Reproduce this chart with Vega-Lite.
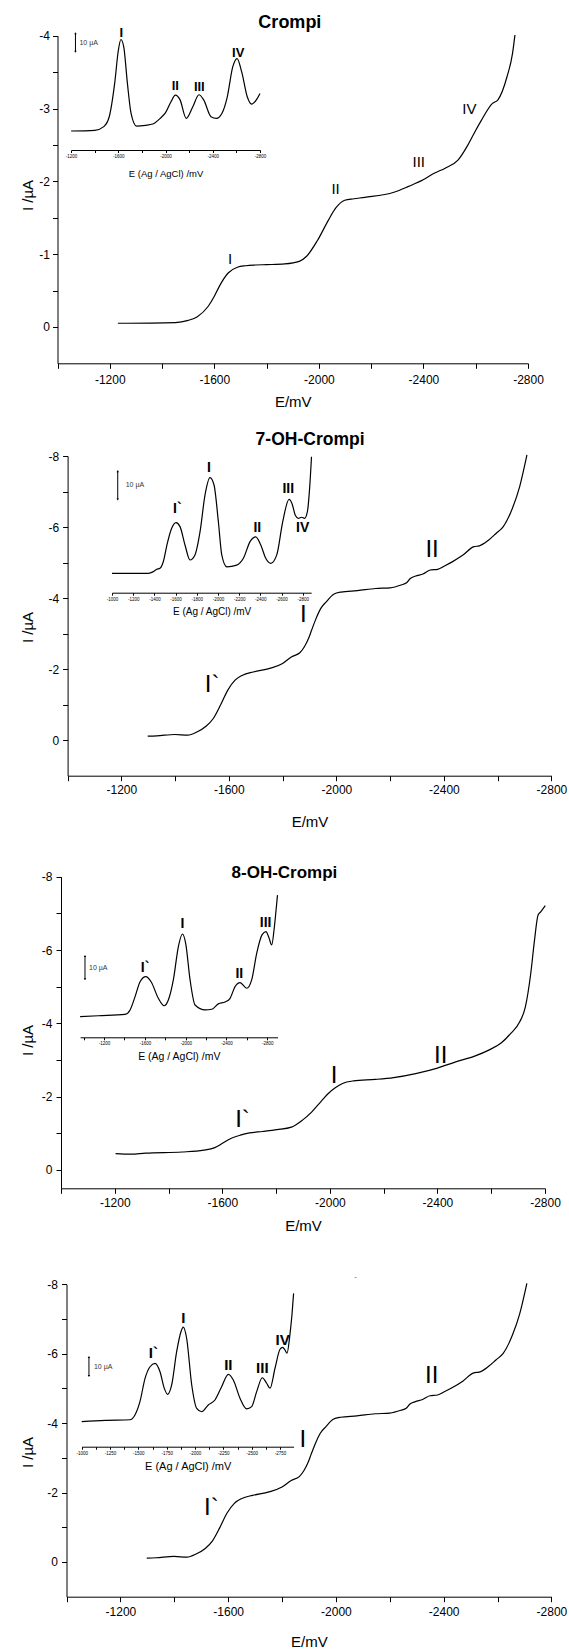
{
  "$schema": "https://vega.github.io/schema/vega-lite/v6.json",
  "width": 569,
  "height": 1650,
  "autosize": {"type": "none"},
  "padding": 0,
  "background": "white",
  "config": {
    "view": {"stroke": null},
    "font": "Liberation Sans",
    "text": {"font": "Liberation Sans", "color": "black"},
    "axis": {"domainColor": "black", "tickColor": "black", "labelColor": "black", "titleColor": "black", "labelFont": "Liberation Sans", "titleFont": "Liberation Sans", "grid": false, "labelFlush": false, "labelOverlap": false, "labelBound": false, "titleFontWeight": "normal", "domainWidth": 1, "tickWidth": 1}
  },
  "datasets": {
    "m1": [{"E":-1231,"I":-0.05},{"E":-1451,"I":-0.06},{"E":-1500,"I":-0.09},{"E":-1535,"I":-0.14},{"E":-1576,"I":-0.28},{"E":-1600,"I":-0.42},{"E":-1618,"I":-0.55},{"E":-1653,"I":-0.74},{"E":-1688,"I":-0.82},{"E":-1720,"I":-0.84},{"E":-1757,"I":-0.85},{"E":-1800,"I":-0.855},{"E":-1869,"I":-0.865},{"E":-1925,"I":-0.9},{"E":-1953,"I":-0.97},{"E":-1995,"I":-1.19},{"E":-2037,"I":-1.47},{"E":-2064,"I":-1.63},{"E":-2099,"I":-1.74},{"E":-2134,"I":-1.76},{"E":-2176,"I":-1.78},{"E":-2287,"I":-1.85},{"E":-2343,"I":-1.93},{"E":-2399,"I":-2.02},{"E":-2441,"I":-2.11},{"E":-2483,"I":-2.18},{"E":-2532,"I":-2.29},{"E":-2567,"I":-2.48},{"E":-2594,"I":-2.66},{"E":-2622,"I":-2.84},{"E":-2664,"I":-3.07},{"E":-2685,"I":-3.12},{"E":-2720,"I":-3.44},{"E":-2741,"I":-3.76},{"E":-2750,"I":-4.01}],
    "i1": [{"E":-1200,"I":0},{"E":-1400,"I":0.36},{"E":-1477,"I":2.4},{"E":-1523,"I":7.8},{"E":-1569,"I":26},{"E":-1600,"I":44},{"E":-1622,"I":50},{"E":-1646,"I":46},{"E":-1677,"I":26},{"E":-1708,"I":9.6},{"E":-1754,"I":2.7},{"E":-1831,"I":3.1},{"E":-1892,"I":3.8},{"E":-1954,"I":6.9},{"E":-2000,"I":10},{"E":-2046,"I":16},{"E":-2083,"I":19.6},{"E":-2123,"I":17},{"E":-2175,"I":6.9},{"E":-2231,"I":13.3},{"E":-2283,"I":19.8},{"E":-2323,"I":17},{"E":-2385,"I":7.8},{"E":-2431,"I":6.9},{"E":-2477,"I":9.6},{"E":-2523,"I":18.7},{"E":-2569,"I":35},{"E":-2606,"I":39.6},{"E":-2646,"I":32},{"E":-2692,"I":18.7},{"E":-2729,"I":14.7},{"E":-2769,"I":17},{"E":-2800,"I":20.5}],
    "ml1": [{"E":-1660,"I":-0.93,"t":"I"},{"E":-2064,"I":-1.89,"t":"II"},{"E":-2382,"I":-2.26,"t":"III"},{"E":-2576,"I":-2.99,"t":"IV"}],
    "il1": [{"E":-1625,"I":53.6,"t":"I"},{"E":-2083,"I":24.5,"t":"II"},{"E":-2286,"I":23.8,"t":"III"},{"E":-2615,"I":42.7,"t":"IV"}],
    "t1": [{"E":-1889,"I":-4.18,"t":"Crompi"}],
    "b1": [{"E":-1237,"lo":43.3,"hi":53.4,"mid":48.3,"t":"10 µA"}],
    "m2": [{"E":-1298,"I":-0.113},{"E":-1332,"I":-0.122},{"E":-1399,"I":-0.16},{"E":-1447,"I":-0.14},{"E":-1481,"I":-0.23},{"E":-1515,"I":-0.39},{"E":-1542,"I":-0.61},{"E":-1569,"I":-0.99},{"E":-1596,"I":-1.41},{"E":-1623,"I":-1.69},{"E":-1651,"I":-1.83},{"E":-1691,"I":-1.92},{"E":-1752,"I":-2.02},{"E":-1800,"I":-2.16},{"E":-1834,"I":-2.35},{"E":-1864,"I":-2.46},{"E":-1881,"I":-2.63},{"E":-1899,"I":-2.91},{"E":-1908,"I":-3.1},{"E":-1922,"I":-3.38},{"E":-1942,"I":-3.71},{"E":-1963,"I":-3.9},{"E":-1990,"I":-4.11},{"E":-2017,"I":-4.17},{"E":-2078,"I":-4.21},{"E":-2146,"I":-4.27},{"E":-2200,"I":-4.29},{"E":-2241,"I":-4.37},{"E":-2261,"I":-4.43},{"E":-2275,"I":-4.55},{"E":-2295,"I":-4.62},{"E":-2322,"I":-4.68},{"E":-2349,"I":-4.79},{"E":-2377,"I":-4.81},{"E":-2404,"I":-4.91},{"E":-2431,"I":-5.02},{"E":-2471,"I":-5.21},{"E":-2512,"I":-5.45},{"E":-2532,"I":-5.47},{"E":-2566,"I":-5.63},{"E":-2594,"I":-5.82},{"E":-2621,"I":-6.01},{"E":-2655,"I":-6.53},{"E":-2682,"I":-7.14},{"E":-2709,"I":-8.03}],
    "i2": [{"E":-1000,"I":0},{"E":-1343,"I":0},{"E":-1390,"I":0.6},{"E":-1422,"I":1.4},{"E":-1453,"I":1.8},{"E":-1484,"I":4.1},{"E":-1522,"I":10.6},{"E":-1563,"I":15.9},{"E":-1604,"I":17.9},{"E":-1642,"I":16.5},{"E":-1689,"I":10},{"E":-1736,"I":4.7},{"E":-1783,"I":6.5},{"E":-1831,"I":14.7},{"E":-1878,"I":27.7},{"E":-1925,"I":33.8},{"E":-1963,"I":31.2},{"E":-2004,"I":18.2},{"E":-2036,"I":6.5},{"E":-2083,"I":2.3},{"E":-2177,"I":2.9},{"E":-2240,"I":5.3},{"E":-2303,"I":11.2},{"E":-2357,"I":12.9},{"E":-2404,"I":10},{"E":-2451,"I":5.3},{"E":-2498,"I":3.5},{"E":-2555,"I":6.5},{"E":-2611,"I":18.2},{"E":-2671,"I":26.1},{"E":-2700,"I":24.5},{"E":-2730,"I":20.5},{"E":-2759,"I":19.4},{"E":-2790,"I":19.8},{"E":-2817,"I":19.4},{"E":-2845,"I":22},{"E":-2865,"I":30},{"E":-2883,"I":41.2}],
    "ml2": [{"E":-1538,"I":-1.55,"t":"I`"},{"E":-1877,"I":-3.52,"t":"I"},{"E":-2356,"I":-5.35,"t":"II"}],
    "il2": [{"E":-1617,"I":22.6,"t":"I`"},{"E":-1916,"I":37.1,"t":"I"},{"E":-2372,"I":16.1,"t":"II"},{"E":-2664,"I":29.7,"t":"III"},{"E":-2800,"I":16.1,"t":"IV"}],
    "t2": [{"E":-1902,"I":-8.45,"t":"7-OH-Crompi"}],
    "b2": [{"E":-1054,"lo":26.1,"hi":36.1,"mid":31.1,"t":"10 µA"}],
    "m3": [{"E":-1203,"I":-0.446},{"E":-1260,"I":-0.43},{"E":-1314,"I":-0.46},{"E":-1450,"I":-0.49},{"E":-1531,"I":-0.54},{"E":-1572,"I":-0.61},{"E":-1599,"I":-0.72},{"E":-1626,"I":-0.84},{"E":-1667,"I":-0.95},{"E":-1701,"I":-1.01},{"E":-1749,"I":-1.05},{"E":-1803,"I":-1.1},{"E":-1857,"I":-1.17},{"E":-1898,"I":-1.36},{"E":-1932,"I":-1.58},{"E":-1966,"I":-1.86},{"E":-1993,"I":-2.08},{"E":-2020,"I":-2.24},{"E":-2047,"I":-2.36},{"E":-2088,"I":-2.43},{"E":-2169,"I":-2.47},{"E":-2237,"I":-2.52},{"E":-2319,"I":-2.63},{"E":-2400,"I":-2.78},{"E":-2468,"I":-2.95},{"E":-2536,"I":-3.1},{"E":-2591,"I":-3.27},{"E":-2638,"I":-3.47},{"E":-2672,"I":-3.72},{"E":-2706,"I":-4.04},{"E":-2727,"I":-4.45},{"E":-2747,"I":-5.36},{"E":-2761,"I":-6.27},{"E":-2774,"I":-6.95},{"E":-2784,"I":-7.04},{"E":-2801,"I":-7.21}],
    "i3": [{"E":-965,"I":-0.3},{"E":-1144,"I":0.1},{"E":-1406,"I":0.7},{"E":-1455,"I":2.6},{"E":-1504,"I":8.3},{"E":-1553,"I":14.7},{"E":-1609,"I":16.9},{"E":-1661,"I":14.7},{"E":-1732,"I":7.6},{"E":-1788,"I":4.4},{"E":-1830,"I":6.9},{"E":-1879,"I":15.5},{"E":-1928,"I":29.7},{"E":-1968,"I":35.2},{"E":-2000,"I":31.2},{"E":-2043,"I":15.5},{"E":-2092,"I":4.7},{"E":-2190,"I":2.6},{"E":-2256,"I":2.9},{"E":-2320,"I":5.2},{"E":-2386,"I":6},{"E":-2435,"I":7.6},{"E":-2484,"I":12.6},{"E":-2533,"I":14.3},{"E":-2598,"I":11.9},{"E":-2647,"I":15.5},{"E":-2696,"I":26.9},{"E":-2748,"I":34.8},{"E":-2787,"I":36.2},{"E":-2817,"I":33.5},{"E":-2843,"I":30.5},{"E":-2866,"I":36.9},{"E":-2886,"I":45.5},{"E":-2900,"I":51.9}],
    "ml3": [{"E":-1675,"I":-1.36,"t":"I`"},{"E":-2016,"I":-2.57,"t":"I"},{"E":-2412,"I":-3.1,"t":"II"}],
    "il3": [{"E":-1602,"I":20.5,"t":"I`"},{"E":-1967,"I":39.4,"t":"I"},{"E":-2526,"I":17.9,"t":"II"},{"E":-2783,"I":40,"t":"III"}],
    "t3": [{"E":-1831,"I":-8.09,"t":"8-OH-Crompi"}],
    "b3": [{"E":-1013,"lo":15.75,"hi":25.75,"mid":20.75,"t":"10 µA"}],
    "i4": [{"E":-1000,"I":-0.5},{"E":-1206,"I":0.2},{"E":-1426,"I":0.5},{"E":-1470,"I":3},{"E":-1514,"I":10},{"E":-1559,"I":22.3},{"E":-1603,"I":28.4},{"E":-1647,"I":30.2},{"E":-1691,"I":25.8},{"E":-1729,"I":17},{"E":-1759,"I":13.9},{"E":-1794,"I":18.8},{"E":-1838,"I":36.3},{"E":-1876,"I":46.8},{"E":-1897,"I":49.2},{"E":-1926,"I":43.4},{"E":-1971,"I":18.8},{"E":-2015,"I":6.5},{"E":-2059,"I":4.7},{"E":-2117,"I":8.3},{"E":-2176,"I":10.9},{"E":-2235,"I":17.9},{"E":-2294,"I":24.4},{"E":-2338,"I":21.4},{"E":-2397,"I":11.8},{"E":-2456,"I":6.2},{"E":-2500,"I":7.4},{"E":-2544,"I":15.3},{"E":-2594,"I":22.6},{"E":-2632,"I":19.7},{"E":-2662,"I":17.1},{"E":-2706,"I":27.6},{"E":-2750,"I":37.6},{"E":-2773,"I":38.6},{"E":-2794,"I":37.2},{"E":-2812,"I":35.5},{"E":-2838,"I":45.6},{"E":-2856,"I":56},{"E":-2870,"I":67}],
    "il4": [{"E":-1632,"I":35.5,"t":"I`"},{"E":-1897,"I":53.9,"t":"I"},{"E":-2294,"I":29.3,"t":"II"},{"E":-2594,"I":27.9,"t":"III"},{"E":-2773,"I":42.5,"t":"IV"}],
    "t4": [{"E":-2073,"I":-8.2,"t":"-"}],
    "b4": [{"E":-1064,"lo":23.5,"hi":33.5,"mid":28.5,"t":"10 µA"}]
  },
  "resolve": {"scale": {"x": "independent", "y": "independent"}, "axis": {"x": "independent", "y": "independent"}},
  "layer": [
    {
      "resolve": {"scale": {"x": "independent", "y": "independent"}, "axis": {"x": "independent", "y": "independent"}},
      "layer": [
        {
          "layer": [
            {"data": {"name": "m1"}, "mark": {"type": "line", "color": "black", "strokeWidth": 1.2, "interpolate": "monotone"},
             "encoding": {
               "x": {"field": "E", "type": "quantitative", "scale": {"domain": [-2800, -1000], "range": [528, 57.5], "nice": false, "zero": false},
                     "axis": {"orient": "bottom", "offset": -1286.7, "values": [-1000,-1200,-1400,-1600,-1800,-2000,-2200,-2400,-2600,-2800], "labelExpr": "datum.value % 400 === 0 ? '' + datum.value : ''", "title": "E/mV", "titleFontSize": 15, "titleY": 38, "titleBaseline": "middle", "labelFontSize": 12, "labelPadding": 6, "tickSize": 5}},
               "y": {"field": "I", "type": "quantitative", "scale": {"domain": [-4, 0.5], "range": [35.7, 363.3], "nice": false, "zero": false},
                     "axis": {"orient": "left", "offset": -57.5, "values": [0,-0.5,-1,-1.5,-2,-2.5,-3,-3.5,-4], "labelExpr": "datum.value % 1 === 0 ? '' + datum.value : ''", "title": "I /µA", "titleFontSize": 15, "titleX": -30, "titleY": 195, "titleBaseline": "middle", "labelFontSize": 12, "labelPadding": 3, "tickSize": 5}}
             }},
            {"data": {"name": "ml1"}, "mark": {"type": "text", "fontSize": 15, "baseline": "middle"},
             "encoding": {"x": {"field": "E", "type": "quantitative"}, "y": {"field": "I", "type": "quantitative"}, "text": {"field": "t"}}},
            {"data": {"name": "t1"}, "mark": {"type": "text", "fontSize": 18, "fontWeight": "bold", "baseline": "middle"},
             "encoding": {"x": {"field": "E", "type": "quantitative"}, "y": {"field": "I", "type": "quantitative"}, "text": {"field": "t"}}}
          ]
        },
        {
          "layer": [
            {"data": {"name": "i1"}, "mark": {"type": "line", "color": "black", "strokeWidth": 1.2, "interpolate": "monotone"},
             "encoding": {
               "x": {"field": "E", "type": "quantitative", "scale": {"domain": [-2800, -1200], "range": [260, 71.1], "nice": false, "zero": false},
                     "axis": {"orient": "bottom", "offset": -1500, "values": [-1200,-1400,-1600,-1800,-2000,-2200,-2400,-2600,-2800], "labelExpr": "datum.value % 400 === 0 ? '' + datum.value : ''", "title": "E (Ag / AgCl) /mV", "titleFontSize": 9.5, "titleY": 23, "titleBaseline": "middle", "labelFontSize": 4.5, "labelPadding": 1, "tickSize": 2.5}},
               "y": {"field": "I", "type": "quantitative", "scale": {"domain": [0, 50], "range": [131, 39.5], "nice": false, "zero": false}, "axis": null}
             }},
            {"data": {"name": "il1"}, "mark": {"type": "text", "fontSize": 13, "fontWeight": "bold", "baseline": "middle"},
             "encoding": {"x": {"field": "E", "type": "quantitative"}, "y": {"field": "I", "type": "quantitative", "axis": null}, "text": {"field": "t"}}},
            {"data": {"name": "b1"}, "mark": {"type": "rule", "color": "black", "strokeWidth": 1},
             "encoding": {"x": {"field": "E", "type": "quantitative"}, "y": {"field": "lo", "type": "quantitative", "axis": null}, "y2": {"field": "hi"}}},
            {"data": {"name": "b1"}, "mark": {"type": "point", "shape": "triangle-up", "filled": true, "color": "black", "size": 6, "opacity": 1},
             "encoding": {"x": {"field": "E", "type": "quantitative"}, "y": {"field": "hi", "type": "quantitative", "axis": null}}},
            {"data": {"name": "b1"}, "mark": {"type": "point", "shape": "triangle-down", "filled": true, "color": "black", "size": 6, "opacity": 1},
             "encoding": {"x": {"field": "E", "type": "quantitative"}, "y": {"field": "lo", "type": "quantitative", "axis": null}}},
            {"data": {"name": "b1"}, "mark": {"type": "text", "fontSize": 7, "align": "left", "baseline": "middle", "dx": 4, "color": "#333"},
             "encoding": {"x": {"field": "E", "type": "quantitative"}, "y": {"field": "mid", "type": "quantitative", "axis": null}, "text": {"field": "t"}}}
          ]
        }
      ]
    },
    {
      "resolve": {"scale": {"x": "independent", "y": "independent"}, "axis": {"x": "independent", "y": "independent"}},
      "layer": [
        {
          "layer": [
            {"data": {"name": "m2"}, "mark": {"type": "line", "color": "black", "strokeWidth": 1.2, "interpolate": "monotone"},
             "encoding": {
               "x": {"field": "E", "type": "quantitative", "scale": {"domain": [-2800, -1000], "range": [551.4, 67.6], "nice": false, "zero": false},
                     "axis": {"orient": "bottom", "offset": -874.3, "values": [-1000,-1200,-1400,-1600,-1800,-2000,-2200,-2400,-2600,-2800], "labelExpr": "datum.value % 400 === 0 ? '' + datum.value : ''", "title": "E/mV", "titleFontSize": 15, "titleY": 46, "titleBaseline": "middle", "labelFontSize": 12, "labelPadding": 4, "tickSize": 5}},
               "y": {"field": "I", "type": "quantitative", "scale": {"domain": [-8, 1], "range": [456, 775.7], "nice": false, "zero": false},
                     "axis": {"orient": "left", "offset": -67.6, "values": [0,-1,-2,-3,-4,-5,-6,-7,-8], "labelExpr": "datum.value % 2 === 0 ? '' + datum.value : ''", "title": "I /µA", "titleFontSize": 15, "titleX": -40, "titleY": 627, "titleBaseline": "middle", "labelFontSize": 12, "labelPadding": 4, "tickSize": 5}}
             }},
            {"data": {"name": "ml2"}, "mark": {"type": "text", "fontSize": 24, "baseline": "middle"},
             "encoding": {"x": {"field": "E", "type": "quantitative"}, "y": {"field": "I", "type": "quantitative"}, "text": {"field": "t"}}},
            {"data": {"name": "t2"}, "mark": {"type": "text", "fontSize": 17.5, "fontWeight": "bold", "baseline": "middle"},
             "encoding": {"x": {"field": "E", "type": "quantitative"}, "y": {"field": "I", "type": "quantitative"}, "text": {"field": "t"}}}
          ]
        },
        {
          "layer": [
            {"data": {"name": "i2"}, "mark": {"type": "line", "color": "black", "strokeWidth": 1.2, "interpolate": "monotone"},
             "encoding": {
               "x": {"field": "E", "type": "quantitative", "scale": {"domain": [-2880, -1000], "range": [311.2, 112], "nice": false, "zero": false},
                     "axis": {"orient": "bottom", "offset": -1057.3, "values": [-1000,-1100,-1200,-1300,-1400,-1500,-1600,-1700,-1800,-1900,-2000,-2100,-2200,-2300,-2400,-2500,-2600,-2700,-2800], "labelExpr": "datum.value % 200 === 0 ? '' + datum.value : ''", "title": "E (Ag / AgCl) /mV", "titleFontSize": 10, "titleY": 19, "titleBaseline": "middle", "labelFontSize": 4.5, "labelPadding": 1, "tickSize": 2.5}},
               "y": {"field": "I", "type": "quantitative", "scale": {"domain": [0, 40], "range": [573.3, 460.1], "nice": false, "zero": false}, "axis": null}
             }},
            {"data": {"name": "il2"}, "mark": {"type": "text", "fontSize": 14, "fontWeight": "bold", "baseline": "middle"},
             "encoding": {"x": {"field": "E", "type": "quantitative"}, "y": {"field": "I", "type": "quantitative", "axis": null}, "text": {"field": "t"}}},
            {"data": {"name": "b2"}, "mark": {"type": "rule", "color": "black", "strokeWidth": 1},
             "encoding": {"x": {"field": "E", "type": "quantitative"}, "y": {"field": "lo", "type": "quantitative", "axis": null}, "y2": {"field": "hi"}}},
            {"data": {"name": "b2"}, "mark": {"type": "point", "shape": "triangle-up", "filled": true, "color": "black", "size": 6, "opacity": 1},
             "encoding": {"x": {"field": "E", "type": "quantitative"}, "y": {"field": "hi", "type": "quantitative", "axis": null}}},
            {"data": {"name": "b2"}, "mark": {"type": "point", "shape": "triangle-down", "filled": true, "color": "black", "size": 6, "opacity": 1},
             "encoding": {"x": {"field": "E", "type": "quantitative"}, "y": {"field": "lo", "type": "quantitative", "axis": null}}},
            {"data": {"name": "b2"}, "mark": {"type": "text", "fontSize": 7, "align": "left", "baseline": "middle", "dx": 8, "color": "#333"},
             "encoding": {"x": {"field": "E", "type": "quantitative"}, "y": {"field": "mid", "type": "quantitative", "axis": null}, "text": {"field": "t"}}}
          ]
        }
      ]
    },
    {
      "resolve": {"scale": {"x": "independent", "y": "independent"}, "axis": {"x": "independent", "y": "independent"}},
      "layer": [
        {
          "layer": [
            {"data": {"name": "m3"}, "mark": {"type": "line", "color": "black", "strokeWidth": 1.2, "interpolate": "monotone"},
             "encoding": {
               "x": {"field": "E", "type": "quantitative", "scale": {"domain": [-2800, -1000], "range": [545, 61], "nice": false, "zero": false},
                     "axis": {"orient": "bottom", "offset": -461.7, "values": [-1000,-1200,-1400,-1600,-1800,-2000,-2200,-2400,-2600,-2800], "labelExpr": "datum.value % 400 === 0 ? '' + datum.value : ''", "title": "E/mV", "titleFontSize": 15, "titleY": 37, "titleBaseline": "middle", "labelFontSize": 12, "labelPadding": 4, "tickSize": 5}},
               "y": {"field": "I", "type": "quantitative", "scale": {"domain": [-8, 0.5], "range": [876.7, 1188.3], "nice": false, "zero": false},
                     "axis": {"orient": "left", "offset": -61, "values": [0,-1,-2,-3,-4,-5,-6,-7,-8], "labelExpr": "datum.value % 2 === 0 ? '' + datum.value : ''", "title": "I /µA", "titleFontSize": 15, "titleX": -33.6, "titleY": 1040, "titleBaseline": "middle", "labelFontSize": 12, "labelPadding": 4, "tickSize": 5}}
             }},
            {"data": {"name": "ml3"}, "mark": {"type": "text", "fontSize": 24, "baseline": "middle"},
             "encoding": {"x": {"field": "E", "type": "quantitative"}, "y": {"field": "I", "type": "quantitative"}, "text": {"field": "t"}}},
            {"data": {"name": "t3"}, "mark": {"type": "text", "fontSize": 17, "fontWeight": "bold", "baseline": "middle"},
             "encoding": {"x": {"field": "E", "type": "quantitative"}, "y": {"field": "I", "type": "quantitative"}, "text": {"field": "t"}}}
          ]
        },
        {
          "layer": [
            {"data": {"name": "i3"}, "mark": {"type": "line", "color": "black", "strokeWidth": 1.2, "interpolate": "monotone"},
             "encoding": {
               "x": {"field": "E", "type": "quantitative", "scale": {"domain": [-2900, -965], "range": [277.5, 80.1], "nice": false, "zero": false},
                     "axis": {"orient": "bottom", "offset": -612.7, "values": [-1000,-1200,-1400,-1600,-1800,-2000,-2200,-2400,-2600,-2800], "labelExpr": "datum.value % 400 === 0 ? '' + datum.value : ''", "title": "E (Ag / AgCl) /mV", "titleFontSize": 10.5, "titleY": 19.5, "titleBaseline": "middle", "labelFontSize": 4.5, "labelPadding": 1, "tickSize": 2.5}},
               "y": {"field": "I", "type": "quantitative", "scale": {"domain": [0, 50], "range": [1016, 899.5], "nice": false, "zero": false}, "axis": null}
             }},
            {"data": {"name": "il3"}, "mark": {"type": "text", "fontSize": 14, "fontWeight": "bold", "baseline": "middle"},
             "encoding": {"x": {"field": "E", "type": "quantitative"}, "y": {"field": "I", "type": "quantitative", "axis": null}, "text": {"field": "t"}}},
            {"data": {"name": "b3"}, "mark": {"type": "rule", "color": "black", "strokeWidth": 1},
             "encoding": {"x": {"field": "E", "type": "quantitative"}, "y": {"field": "lo", "type": "quantitative", "axis": null}, "y2": {"field": "hi"}}},
            {"data": {"name": "b3"}, "mark": {"type": "point", "shape": "triangle-up", "filled": true, "color": "black", "size": 6, "opacity": 1},
             "encoding": {"x": {"field": "E", "type": "quantitative"}, "y": {"field": "hi", "type": "quantitative", "axis": null}}},
            {"data": {"name": "b3"}, "mark": {"type": "point", "shape": "triangle-down", "filled": true, "color": "black", "size": 6, "opacity": 1},
             "encoding": {"x": {"field": "E", "type": "quantitative"}, "y": {"field": "lo", "type": "quantitative", "axis": null}}},
            {"data": {"name": "b3"}, "mark": {"type": "text", "fontSize": 7, "align": "left", "baseline": "middle", "dx": 4, "color": "#333"},
             "encoding": {"x": {"field": "E", "type": "quantitative"}, "y": {"field": "mid", "type": "quantitative", "axis": null}, "text": {"field": "t"}}}
          ]
        }
      ]
    },
    {
      "resolve": {"scale": {"x": "independent", "y": "independent"}, "axis": {"x": "independent", "y": "independent"}},
      "layer": [
        {
          "layer": [
            {"data": {"name": "m2"}, "mark": {"type": "line", "color": "black", "strokeWidth": 1.2, "interpolate": "monotone"},
             "encoding": {
               "x": {"field": "E", "type": "quantitative", "scale": {"domain": [-2800, -1000], "range": [551.4, 66.5], "nice": false, "zero": false},
                     "axis": {"orient": "bottom", "offset": -53.3, "values": [-1000,-1200,-1400,-1600,-1800,-2000,-2200,-2400,-2600,-2800], "labelExpr": "datum.value % 400 === 0 ? '' + datum.value : ''", "title": "E/mV", "titleFontSize": 15, "titleY": 45, "titleBaseline": "middle", "labelFontSize": 12, "labelPadding": 4.5, "tickSize": 5}},
               "y": {"field": "I", "type": "quantitative", "scale": {"domain": [-8, 1], "range": [1284.3, 1596.7], "nice": false, "zero": false},
                     "axis": {"orient": "left", "offset": -66.5, "values": [0,-1,-2,-3,-4,-5,-6,-7,-8], "labelExpr": "datum.value % 2 === 0 ? '' + datum.value : ''", "title": "I /µA", "titleFontSize": 15, "titleX": -39, "titleY": 1452, "titleBaseline": "middle", "labelFontSize": 12, "labelPadding": 4, "tickSize": 5}}
             }},
            {"data": {"name": "ml2"}, "mark": {"type": "text", "fontSize": 24, "baseline": "middle"},
             "encoding": {"x": {"field": "E", "type": "quantitative"}, "y": {"field": "I", "type": "quantitative"}, "text": {"field": "t"}}},
            {"data": {"name": "t4"}, "mark": {"type": "text", "fontSize": 8, "baseline": "middle", "color": "#555"},
             "encoding": {"x": {"field": "E", "type": "quantitative"}, "y": {"field": "I", "type": "quantitative"}, "text": {"field": "t"}}}
          ]
        },
        {
          "layer": [
            {"data": {"name": "i4"}, "mark": {"type": "line", "color": "black", "strokeWidth": 1.2, "interpolate": "monotone"},
             "encoding": {
               "x": {"field": "E", "type": "quantitative", "scale": {"domain": [-2870, -1000], "range": [293.6, 81.7], "nice": false, "zero": false},
                     "axis": {"orient": "bottom", "offset": -203.3, "values": [-1000,-1125,-1250,-1375,-1500,-1625,-1750,-1875,-2000,-2125,-2250,-2375,-2500,-2625,-2750], "labelExpr": "datum.value % 250 === 0 ? '' + datum.value : ''", "title": "E (Ag / AgCl) /mV", "titleFontSize": 11, "titleY": 20, "titleBaseline": "middle", "labelFontSize": 4.5, "labelPadding": 1, "tickSize": 2.5}},
               "y": {"field": "I", "type": "quantitative", "scale": {"domain": [0, 60], "range": [1420.7, 1306.7], "nice": false, "zero": false}, "axis": null}
             }},
            {"data": {"name": "il4"}, "mark": {"type": "text", "fontSize": 15, "fontWeight": "bold", "baseline": "middle"},
             "encoding": {"x": {"field": "E", "type": "quantitative"}, "y": {"field": "I", "type": "quantitative", "axis": null}, "text": {"field": "t"}}},
            {"data": {"name": "b4"}, "mark": {"type": "rule", "color": "black", "strokeWidth": 1},
             "encoding": {"x": {"field": "E", "type": "quantitative"}, "y": {"field": "lo", "type": "quantitative", "axis": null}, "y2": {"field": "hi"}}},
            {"data": {"name": "b4"}, "mark": {"type": "point", "shape": "triangle-up", "filled": true, "color": "black", "size": 6, "opacity": 1},
             "encoding": {"x": {"field": "E", "type": "quantitative"}, "y": {"field": "hi", "type": "quantitative", "axis": null}}},
            {"data": {"name": "b4"}, "mark": {"type": "point", "shape": "triangle-down", "filled": true, "color": "black", "size": 6, "opacity": 1},
             "encoding": {"x": {"field": "E", "type": "quantitative"}, "y": {"field": "lo", "type": "quantitative", "axis": null}}},
            {"data": {"name": "b4"}, "mark": {"type": "text", "fontSize": 7, "align": "left", "baseline": "middle", "dx": 5, "color": "#333"},
             "encoding": {"x": {"field": "E", "type": "quantitative"}, "y": {"field": "mid", "type": "quantitative", "axis": null}, "text": {"field": "t"}}}
          ]
        }
      ]
    }
  ]
}
